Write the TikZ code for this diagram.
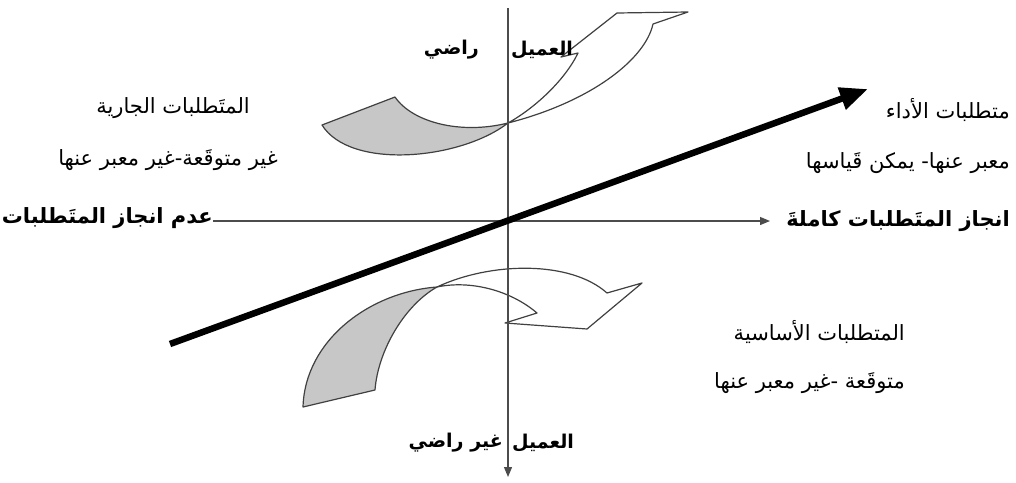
\documentclass[tikz,border=0pt]{standalone}
\usepackage{fontspec}
\newfontfamily\arabicfont[Script=Arabic]{DejaVu Sans}
\TeXXeTstate=1
\usetikzlibrary{arrows.meta}
\tikzset{
  ar/.style={font=\arabicfont\fontsize{21}{24}\selectfont, inner sep=0pt, text=black},
  arb/.style={ar, font=\arabicfont\bfseries\fontsize{21}{24}\selectfont},
  lab/.style={ar, font=\arabicfont\bfseries\fontsize{19}{22}\selectfont},
  axis/.style={draw=black!70, line width=1.2pt},
  ribbon/.style={draw=black!75, line width=1.2pt, line join=round},
  shade/.style={ribbon, fill=black!22},
  thick arrow/.style={line width=6.5pt, -{Triangle[length=28pt,width=22pt]}}
}
\begin{document}
\begin{tikzpicture}[x=1pt,y=-1pt]
\useasboundingbox (0,0) rectangle (1016,482);
% coordinates
\coordinate (vtop) at (508,8);
\coordinate (vbot) at (508,477);
\coordinate (hend) at (770,221);
\coordinate (ts) at (170,344);
\coordinate (te) at (868,89);
\coordinate (m1) at (508,123);
\coordinate (m2) at (437,287);
% upper ribbon
\draw[shade] (m1) .. controls (460,160) and (350,170) .. (322,125)
  -- (395,97) .. controls (412,122) and (460,135) .. (m1) -- cycle;
\draw[ribbon, fill=white] (m1) .. controls (535,108) and (565,80) .. (578,53)
  -- (561,57) -- (617,13) -- (688,12) -- (653,24)
  .. controls (645,60) and (590,102) .. (m1) -- cycle;
% lower ribbon
\draw[shade] (m2) .. controls (370,292) and (305,340) .. (303,407)
  -- (375,390) .. controls (378,350) and (405,305) .. (m2) -- cycle;
\draw[ribbon, fill=white] (m2) .. controls (490,262) and (570,260) .. (607,293)
  -- (642,283) -- (587,329) -- (505,323) -- (537,313)
  .. controls (510,290) and (470,280) .. (m2) -- cycle;
% texts
\node[ar, anchor=east] (perf1) at (1010,110) {\beginR متطلبات الأداء\endR};
\node[ar, anchor=east] (perf2) at (1010,163) {\beginR معبر عنها- يمكن قَياسها\endR};
\node[arb, anchor=east] (full) at (1010,221) {\beginR انجاز المتَطلبات كاملةَ\endR};
\node[ar, anchor=east] (cur1) at (250,108) {\beginR المتَطلبات الجارية\endR};
\node[ar, anchor=east] (cur2) at (278,160) {\beginR غير متوقَعة-غير معبر عنها\endR};
\node[arb, anchor=east] (none) at (213,218) {\beginR عدم انجاز المتَطلبات\endR};
\node[ar, anchor=east] (basic1) at (905,332) {\beginR المتطلبات الأساسية\endR};
\node[ar, anchor=east] (basic2) at (905,383) {\beginR متوقَعة -غير معبر عنها\endR};
\node[lab, anchor=west] (topR) at (511,50) {\beginR العميل\endR};
\node[lab, anchor=east] (topL) at (479,50) {\beginR راضي\endR};
\node[lab, anchor=west] (botR) at (512,443) {\beginR العميل\endR};
\node[lab, anchor=east] (botL) at (503,443) {\beginR غير راضي\endR};
% axes
\draw[axis, -{Triangle[length=10pt,width=8pt]}] (vtop) -- (vbot);
\draw[axis, -{Triangle[length=10pt,width=8pt]}] (none.east |- hend) -- (hend);
% performance arrow
\draw[thick arrow] (ts) -- (te);
\end{tikzpicture}
\end{document}
